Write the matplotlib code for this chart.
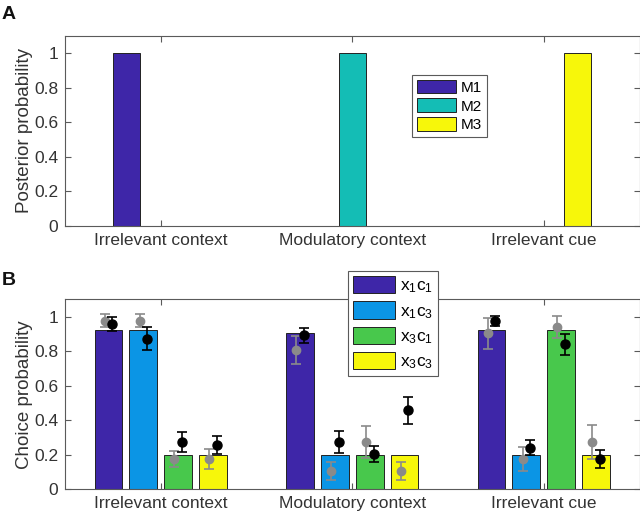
import numpy as np
import matplotlib
matplotlib.use('Agg')
import matplotlib.pyplot as plt

plt.rcParams['font.family'] = ['Liberation Sans', 'DejaVu Sans']
plt.rcParams['mathtext.fontset'] = 'custom'
plt.rcParams['mathtext.rm'] = 'Liberation Sans'
plt.rcParams['mathtext.it'] = 'Liberation Sans'

# categories shared by both panels
categories = ['Irrelevant context', 'Modulatory context', 'Irrelevant cue']

# panel A: posterior probability of each model
models = ['M1', 'M2', 'M3']
post_m1 = [1, 0, 0]
post_m2 = [0, 1, 0]
post_m3 = [0, 0, 1]

# panel B: model choice probabilities (bars)
conds = ['$\\mathregular{x_1c_1}$', '$\\mathregular{x_1c_3}$',
         '$\\mathregular{x_3c_1}$', '$\\mathregular{x_3c_3}$']
bar_x1c1 = [0.925, 0.905, 0.925]
bar_x1c3 = [0.925, 0.20, 0.20]
bar_x3c1 = [0.20, 0.20, 0.925]
bar_x3c3 = [0.20, 0.20, 0.20]

# grey points (mean, error)
grey_x1c1 = [0.977, 0.807, 0.903]
grey_x1c3 = [0.977, 0.106, 0.174]
grey_x3c1 = [0.174, 0.273, 0.940]
grey_x3c3 = [0.174, 0.106, 0.273]
grey_err_x1c1 = [0.037, 0.082, 0.088]
grey_err_x1c3 = [0.037, 0.053, 0.072]
grey_err_x3c1 = [0.046, 0.094, 0.065]
grey_err_x3c3 = [0.060, 0.053, 0.100]

# black points (mean, error)
black_x1c1 = [0.958, 0.892, 0.973]
black_x1c3 = [0.872, 0.273, 0.240]
black_x3c1 = [0.273, 0.205, 0.840]
black_x3c3 = [0.255, 0.457, 0.172]
black_err_x1c1 = [0.040, 0.045, 0.028]
black_err_x1c3 = [0.067, 0.062, 0.045]
black_err_x3c1 = [0.057, 0.047, 0.062]
black_err_x3c3 = [0.051, 0.077, 0.052]

colA = ['#3E26A8', '#14BDB5', '#F7F70A']
colB = ['#3E26A8', '#0B95E5', '#48C84C', '#F7F70A']
axcol = '#5a5a5a'
txtcol = '#333333'

fig = plt.figure(figsize=(6.4, 5.16), dpi=100)
axA = fig.add_axes([0.1016, 0.5626, 0.8977, 0.3674])
axB = fig.add_axes([0.1016, 0.0523, 0.8977, 0.3674])

x = np.arange(1, 4)


def style(ax, ylabel):
    ax.set_xlim(0.5, 3.5)
    ax.set_ylim(0, 1.1)
    ax.set_yticks([0, 0.2, 0.4, 0.6, 0.8, 1])
    ax.set_yticklabels(['0', '0.2', '0.4', '0.6', '0.8', '1'])
    ax.set_xticks(x)
    ax.set_xticklabels(categories)
    ax.tick_params(direction='in', length=4, width=0.8, color=axcol,
                   labelcolor=txtcol, labelsize=12.5, top=True, right=True, pad=5)
    for s in ax.spines.values():
        s.set_color(axcol)
        s.set_linewidth(0.8)
    ax.set_ylabel(ylabel, fontsize=13.5, color=txtcol, labelpad=1)


# panel A
gwA = 0.8 * 3 / 4.5
wA = gwA / 3 * 0.8
offA = (np.arange(3) - 1) * gwA / 3
for i, vals in enumerate([post_m1, post_m2, post_m3]):
    axA.bar(x + offA[i], vals, wA, color=colA[i], edgecolor='#222222',
            linewidth=0.7, label=models[i], zorder=2)
style(axA, 'Posterior probability')
legA = axA.legend(loc='upper left', bbox_to_anchor=(412 / 640, 1 - 75 / 516),
                  bbox_transform=fig.transFigure, fontsize=11, fancybox=False,
                  edgecolor=axcol, framealpha=1, handlelength=2.6, handleheight=1.0,
                  labelspacing=0.25, borderpad=0.3, handletextpad=0.3,
                  borderaxespad=0)
legA.get_frame().set_linewidth(0.8)

# panel B
gwB = 4 / 5.5
wB = gwB / 4 * 0.8
offB = (np.arange(4) - 1.5) * gwB / 4
bars = [bar_x1c1, bar_x1c3, bar_x3c1, bar_x3c3]
greys = [grey_x1c1, grey_x1c3, grey_x3c1, grey_x3c3]
grey_errs = [grey_err_x1c1, grey_err_x1c3, grey_err_x3c1, grey_err_x3c3]
blacks = [black_x1c1, black_x1c3, black_x3c1, black_x3c3]
black_errs = [black_err_x1c1, black_err_x1c3, black_err_x3c1, black_err_x3c3]
for i in range(4):
    axB.bar(x + offB[i], bars[i], wB, color=colB[i], edgecolor='#222222',
            linewidth=0.7, label=conds[i], zorder=2)
for i in range(4):
    axB.errorbar(x + offB[i] - 0.02, greys[i], yerr=grey_errs[i], fmt='o',
                 color='#8a8a8a', ms=6, capsize=3.5, elinewidth=1.2,
                 capthick=1.2, zorder=3)
    axB.errorbar(x + offB[i] + 0.02, blacks[i], yerr=black_errs[i], fmt='o',
                 color='black', ms=6.5, capsize=3.5, elinewidth=1.2,
                 capthick=1.2, zorder=4)
style(axB, 'Choice probability')
legB = axB.legend(loc='upper left', bbox_to_anchor=(348 / 640, 1 - 271 / 516),
                  bbox_transform=fig.transFigure, fontsize=12.5, fancybox=False,
                  edgecolor=axcol, framealpha=1, handlelength=2.4, handleheight=1.15,
                  labelspacing=0.35, borderpad=0.3, handletextpad=0.3,
                  borderaxespad=0)
legB.get_frame().set_linewidth(0.8)
legB.set_zorder(10)

fig.text(2 / 640, 1 - 6 / 516, 'A', fontsize=14, fontweight='bold',
         color='#111111', va='top', ha='left')
fig.text(2 / 640, 1 - 272 / 516, 'B', fontsize=14, fontweight='bold',
         color='#111111', va='top', ha='left')

fig.savefig('out.png', dpi=100)
